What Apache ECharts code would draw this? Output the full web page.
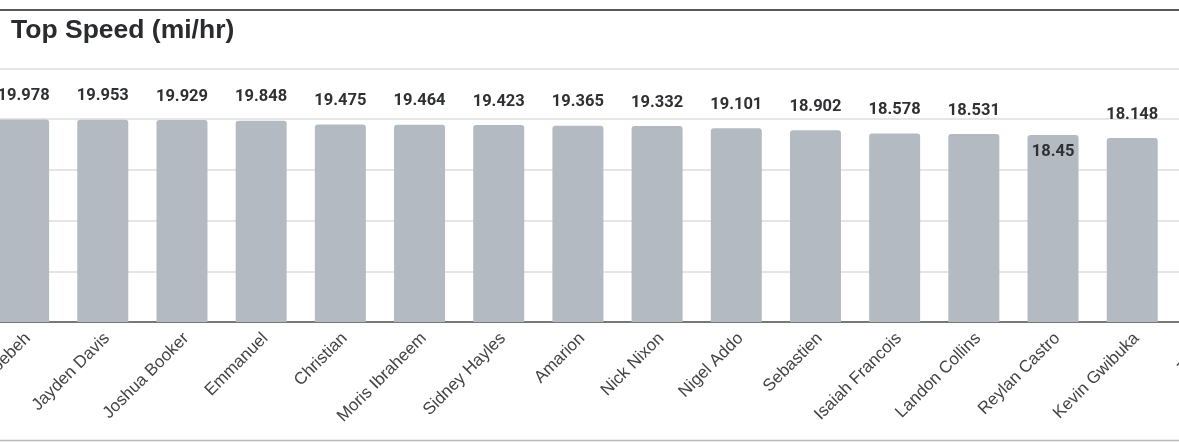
<!DOCTYPE html>
<html>
<head>
<meta charset="utf-8">
<title>Top Speed</title>
<script src="https://cdn.jsdelivr.net/npm/echarts@6/dist/echarts.min.js"></script>
<style>
  html, body { margin: 0; padding: 0; background: #fff; }
  #main { width: 1179px; height: 442px; }
</style>
</head>
<body>
<div id="main"></div>
<script>
// players (first and last are cut off by the frame)
var players = ['Joseph Gbebeh', 'Jayden Davis', 'Joshua Booker', 'Emmanuel', 'Christian',
  'Moris Ibraheem', 'Sidney Hayles', 'Amarion', 'Nick Nixon', 'Nigel Addo', 'Sebastien',
  'Isaiah Francois', 'Landon Collins', 'Reylan Castro', 'Kevin Gwibuka', 'Jordan'];
// top speed in mi/hr
var speeds = [19.978, 19.953, 19.929, 19.848, 19.475, 19.464, 19.423, 19.365, 19.332,
  19.101, 18.902, 18.578, 18.531, 18.45, 18.148, 18.1];
// labels that sit inside the bar instead of on top
var insideLabels = ['Reylan Castro'];

var chart = echarts.init(document.getElementById('main'));

var barData = speeds.map(function (v, i) {
  var item = { value: v };
  if (insideLabels.indexOf(players[i]) >= 0) {
    item.label = { position: 'insideTop', distance: 8 };
  }
  return item;
});

var option = {
  animation: false,
  textStyle: { fontFamily: 'Roboto, Arial, sans-serif' },
  title: {
    text: 'Top Speed (mi/hr)',
    left: 6,
    top: 12,
    textStyle: { fontSize: 26.5, fontWeight: 'bold', color: '#2a2b2e', fontFamily: '"Liberation Sans", Arial, sans-serif' }
  },
  grid: { left: -16, top: 68.5, width: 1267, height: 253.5, containLabel: false, outerBoundsMode: 'none' },
  xAxis: {
    type: 'category',
    data: players,
    axisTick: { show: false },
    axisLine: { lineStyle: { color: '#555', width: 1.5 } },
    axisLabel: {
      interval: 0,
      rotate: 45,
      margin: 18,
      padding: [0, -6, 0, 0],
      fontSize: 17,
      color: '#444',
      fontFamily: '"Liberation Sans", Arial, sans-serif'
    }
  },
  yAxis: {
    type: 'value',
    min: 0,
    max: 25,
    interval: 5,
    axisLabel: { show: false },
    axisLine: { show: false },
    axisTick: { show: false },
    splitLine: { lineStyle: { color: '#dcdcdc', width: 1.5 } }
  },
  series: [{
    type: 'bar',
    data: barData,
    barWidth: 51,
    itemStyle: { color: '#b3bac2', borderRadius: [3, 3, 0, 0] },
    label: {
      show: true,
      position: 'top',
      distance: 15,
      fontSize: 16.5,
      fontWeight: 'bold',
      color: '#2f3033',
      fontFamily: 'Roboto, Arial, sans-serif'
    }
  }],
  graphic: [
    { type: 'line', shape: { x1: 0, y1: 10, x2: 1179, y2: 10 }, style: { stroke: '#222', lineWidth: 1.5 } },
    { type: 'line', shape: { x1: 0, y1: 440.5, x2: 1179, y2: 440.5 }, style: { stroke: '#bbb', lineWidth: 1.5 } }
  ]
};

chart.setOption(option);
</script>
</body>
</html>
